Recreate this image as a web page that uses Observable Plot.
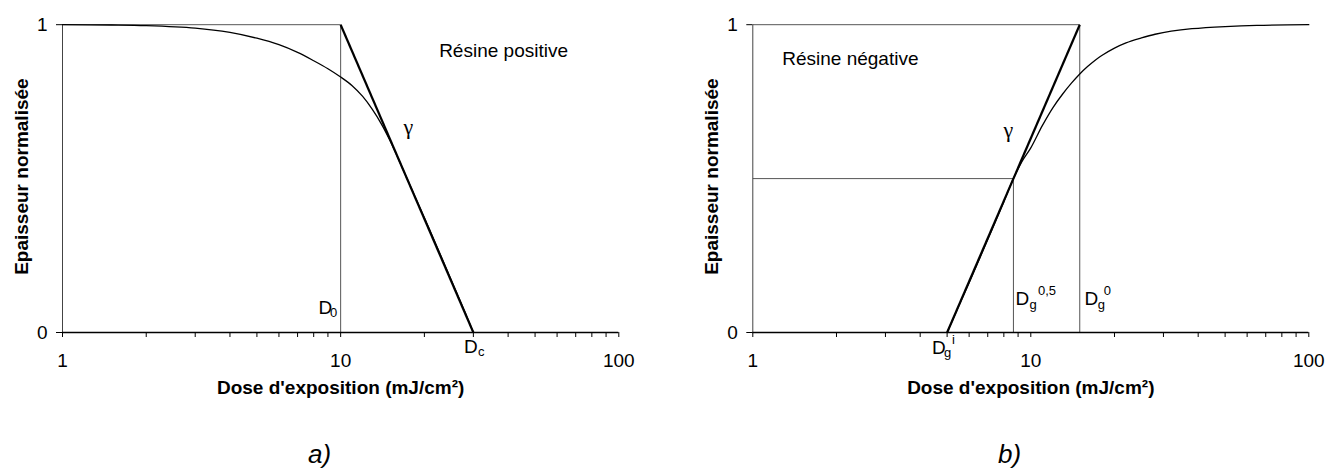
<!DOCTYPE html>
<html>
<head>
<meta charset="utf-8">
<script src="https://cdn.jsdelivr.net/npm/d3@7"></script>
<script src="https://cdn.jsdelivr.net/npm/@observablehq/plot@0.6"></script>
<style>
  body { margin: 0; background: #fff; }
  #wrap { position: relative; width: 1336px; height: 471px; font-family: "Liberation Sans", Arial, sans-serif; overflow: hidden; }
  .panel { position: absolute; top: 0; }
  .cap { position: absolute; font-style: italic; font-size: 26px; line-height: 26px; color: #000; }
</style>
</head>
<body>
<div id="wrap"></div>
<script>
// ---------- data ----------
const xTicks = [1, 2, 3, 4, 5, 6, 7, 8, 9, 10, 20, 30, 40, 50, 60, 70, 80, 90, 100];
const xTickLabels = [1, 10, 100];
const yTicks = [0, 1];
const xTitle = "Dose d'exposition (mJ/cm²)";
const yTitle = "Epaisseur normalisée";
const captions = ["a)", "b)"];

// panel a : positive resist
const doseA  = [1, 1.5, 2, 3, 4, 5, 6, 7, 8, 9, 10, 11, 12, 13, 14, 15, 16.2, 18, 20, 22, 25, 28, 30];
const thickA = [1, 0.999, 0.997, 0.989, 0.975, 0.956, 0.935, 0.91, 0.883, 0.857, 0.83, 0.802, 0.767, 0.725, 0.678, 0.626, 0.56, 0.466, 0.373, 0.287, 0.17, 0.066, 0];
const D0 = 10, Dc = 30;
const nameA = "Résine positive";

// panel b : negative resist
const doseB  = [5, 5.5, 6, 7, 8, 8.66, 9.3, 10, 11, 12, 13, 14, 15, 16, 17, 18, 20, 22, 25, 28, 32, 38, 50, 65, 100];
const thickB = [0, 0.085, 0.162, 0.302, 0.425, 0.5, 0.556, 0.6, 0.672, 0.73, 0.774, 0.81, 0.84, 0.864, 0.884, 0.9, 0.924, 0.941, 0.957, 0.969, 0.979, 0.987, 0.994, 0.998, 1];
const Dgi = 5, Dg05 = 8.66, Dg0 = 15;
const nameB = "Résine négative";

// label anchor values (data units)
const gammaA = {x: 17.5, y: 0.646};
const gammaB = {x: 8.3, y: 0.634};
const nameAPos = {x: 22.6, y: 0.894};
const nameBPos = {x: 1.276, y: 0.868};

// ---------- helpers ----------
const FONT = "Liberation Sans, Arial, sans-serif";
function lab(x, y, t, opts) {
  return Plot.text([{x, y, t}], {x: "x", y: "y", text: "t", lineAnchor: "bottom", fontFamily: FONT, fill: "#000", ...opts});
}

function panel({width, marginLeft, marginRight, curveX, curveY, guides, tangent, extra}) {
  const curve = curveX.map((d, i) => ({x: d, y: curveY[i]}));
  return Plot.plot({
    width, height: 400,
    marginLeft, marginRight, marginTop: 24.2, marginBottom: 68,
    x: {type: "log", domain: [1, 100]},
    y: {domain: [0, 1]},
    style: {fontFamily: FONT, fontSize: "19px", color: "#000", background: "#fff", overflow: "visible"},
    marks: [
      Plot.link(guides, {x1: "x1", y1: "y1", x2: "x2", y2: "y2", stroke: "#555", strokeWidth: 1}),
      Plot.ruleX([1], {stroke: "#444", strokeWidth: 1}),
      Plot.ruleY([0], {stroke: "#000", strokeWidth: 1.5}),
      Plot.axisX({ticks: xTicks, tickSize: 5, tickPadding: 16, label: null, fontSize: 19,
                  tickFormat: d => xTickLabels.includes(d) ? String(d) : ""}),
      Plot.axisY({ticks: yTicks, tickSize: 6, tickPadding: 9, label: null, fontSize: 19,
                  tickFormat: d => String(d)}),
      Plot.line(curve, {x: "x", y: "y", curve: "catmull-rom", stroke: "#000", strokeWidth: 1.3}),
      Plot.link(tangent, {x1: "x1", y1: "y1", x2: "x2", y2: "y2", stroke: "#000", strokeWidth: 2.2}),
      Plot.text([xTitle], {text: d => d, frameAnchor: "bottom", dy: 61.5, lineAnchor: "bottom", textAnchor: "middle",
                           fontWeight: "bold", fontSize: 19, fontFamily: FONT}),
      Plot.text([yTitle], {text: d => d, frameAnchor: "left", rotate: -90, dx: -35, dy: -2, lineAnchor: "bottom",
                           textAnchor: "middle", fontWeight: "bold", fontSize: 19, fontFamily: FONT}),
      ...extra
    ]
  });
}

// ---------- panel a ----------
const guidesA = [
  {x1: 1, y1: 1, x2: D0, y2: 1},
  {x1: D0, y1: 0, x2: D0, y2: 1}
];
const tangentA = [{x1: D0, y1: 1, x2: Dc, y2: 0}];
const plotA = panel({
  width: 668, marginLeft: 62, marginRight: 49.7,
  curveX: doseA, curveY: thickA, guides: guidesA, tangent: tangentA,
  extra: [
    lab(D0, 0, "D", {textAnchor: "end", dx: -8.3, dy: -18.4, fontSize: 19}),
    lab(D0, 0, "0", {textAnchor: "end", dx: -3.3, dy: -15.8, fontSize: 13}),
    lab(Dc, 0, "D", {textAnchor: "start", dx: -9.3, dy: 20, fontSize: 19}),
    lab(Dc, 0, "c", {textAnchor: "start", dx: 4.6, dy: 23.3, fontSize: 13}),
    lab(gammaA.x, gammaA.y, "γ", {textAnchor: "middle", fontSize: 22, fontFamily: "Liberation Serif, serif"}),
    lab(nameAPos.x, nameAPos.y, nameA, {textAnchor: "start", fontSize: 19})
  ]
});

// ---------- panel b ----------
const guidesB = [
  {x1: 1, y1: 1, x2: Dg0, y2: 1},
  {x1: Dg0, y1: 0, x2: Dg0, y2: 1},
  {x1: 1, y1: 0.5, x2: Dg05, y2: 0.5},
  {x1: Dg05, y1: 0, x2: Dg05, y2: 0.5}
];
const tangentB = [{x1: Dgi, y1: 0, x2: Dg0, y2: 1}];
const plotB = panel({
  width: 646, marginLeft: 62.3, marginRight: 27.7,
  curveX: doseB, curveY: thickB, guides: guidesB, tangent: tangentB,
  extra: [
    lab(Dgi, 0, "D", {textAnchor: "start", dx: -15, dy: 21, fontSize: 19}),
    lab(Dgi, 0, "g", {textAnchor: "start", dx: -3.2, dy: 24, fontSize: 13}),
    lab(Dgi, 0, "i", {textAnchor: "start", dx: 5, dy: 11, fontSize: 13}),
    lab(Dg05, 0, "D", {textAnchor: "start", dx: 2, dy: -27.3, fontSize: 19}),
    lab(Dg05, 0, "g", {textAnchor: "start", dx: 16, dy: -24, fontSize: 13}),
    lab(Dg05, 0, "0,5", {textAnchor: "start", dx: 24.5, dy: -37.3, fontSize: 13}),
    lab(Dg0, 0, "D", {textAnchor: "start", dx: 4.7, dy: -27.3, fontSize: 19}),
    lab(Dg0, 0, "g", {textAnchor: "start", dx: 18, dy: -24, fontSize: 13}),
    lab(Dg0, 0, "0", {textAnchor: "start", dx: 24, dy: -37.3, fontSize: 13}),
    lab(gammaB.x, gammaB.y, "γ", {textAnchor: "middle", fontSize: 22, fontFamily: "Liberation Serif, serif"}),
    lab(nameBPos.x, nameBPos.y, nameB, {textAnchor: "start", fontSize: 19})
  ]
});

// ---------- layout ----------
const wrap = document.getElementById("wrap");
plotA.classList.add("panel"); plotA.style.left = "0px";
plotB.classList.add("panel"); plotB.style.left = "690px";
wrap.append(plotA, plotB);
const capLefts = [308, 998];
captions.forEach((c, i) => {
  const d = document.createElement("div");
  d.className = "cap";
  d.textContent = c;
  d.style.left = capLefts[i] + "px";
  d.style.top = "441px";
  wrap.append(d);
});
</script>
</body>
</html>
